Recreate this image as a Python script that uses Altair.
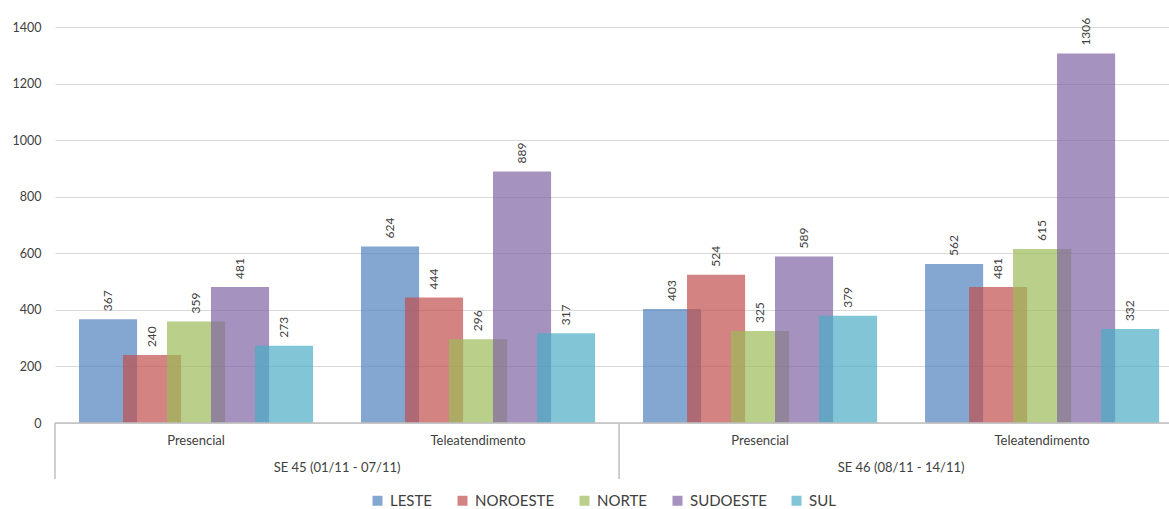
import altair as alt
import pandas as pd

# Categories
weeks = ["SE 45 (01/11 - 07/11)", "SE 46 (08/11 - 14/11)"]
modes = ["Presencial", "Teleatendimento"]
regions = ["LESTE", "NOROESTE", "NORTE", "SUDOESTE", "SUL"]
colors = ["#4F81BD", "#C0504D", "#9BBB59", "#8064A2", "#4BACC6"]

# Values per region: SE45 Presencial, SE45 Teleatendimento, SE46 Presencial, SE46 Teleatendimento
leste = [367, 624, 403, 562]
noroeste = [240, 444, 524, 481]
norte = [359, 296, 325, 615]
sudoeste = [481, 889, 589, 1306]
sul = [273, 317, 379, 332]

series = [leste, noroeste, norte, sudoeste, sul]

rows = []
for si, (reg, vals) in enumerate(zip(regions, series)):
    for gi, v in enumerate(vals):
        rows.append({"region": reg, "ser": si, "grp": gi,
                     "week": weeks[gi // 2], "mode": modes[gi % 2], "value": v})
bars_df = pd.DataFrame(rows)

mode_df = pd.DataFrame([{"label": modes[g % 2], "grp": g} for g in range(4)])
week_df = pd.DataFrame([{"label": w, "wk": i} for i, w in enumerate(weeks)])
sep_df = pd.DataFrame({"pos": [0, 2, 4]})

FONT = "Lato"
TXT = "#404040"
AXIS_GRAY = "#BFBFBF"

xscale = alt.Scale(domain=[0, 3.95], nice=False, zero=False)
yscale = alt.Scale(domain=[0, 1400], nice=False)

# Overlapping bars inside each category band
base = alt.Chart(bars_df).transform_calculate(
    x0="datum.grp + 0.085 + datum.ser * 0.156",
).transform_calculate(
    x1="datum.x0 + 0.206",
    xc="datum.x0 + 0.103",
)

bars = base.mark_bar(opacity=0.7).encode(
    x=alt.X("x0:Q", scale=xscale, axis=None),
    x2="x1:Q",
    y=alt.Y("value:Q", scale=yscale,
            axis=alt.Axis(values=list(range(0, 1401, 200)), title=None,
                          format="d", domain=False, ticks=False, labelPadding=14,
                          gridColor="#D9D9D9", gridWidth=1,
                          labelColor=TXT, labelFontSize=12.5, labelFont=FONT)),
    y2=alt.datum(0),
    color=alt.Color("region:N", scale=alt.Scale(domain=regions, range=colors),
                    legend=alt.Legend(orient="none", legendX=315, legendY=466,
                                      direction="horizontal", title=None,
                                      symbolType="square", symbolSize=100,
                                      symbolOpacity=0.7, symbolStrokeWidth=0,
                                      labelFontSize=15, labelFont=FONT,
                                      labelColor=TXT, columnPadding=22,
                                      labelOffset=5)),
    order=alt.Order("ser:Q"),
)

labels = base.mark_text(angle=270, align="left", baseline="middle", dx=8,
                        fontSize=12, font=FONT, color=TXT).encode(
    x=alt.X("xc:Q", scale=xscale, axis=None),
    y=alt.Y("value:Q", scale=yscale),
    text="value:Q",
)

zero_line = alt.Chart(pd.DataFrame({"v": [0]})).mark_rule(
    color=AXIS_GRAY, strokeWidth=1.5).encode(y=alt.Y("v:Q", scale=yscale))

separators = alt.Chart(sep_df).mark_rule(color=AXIS_GRAY, strokeWidth=1.5).encode(
    x=alt.X("pos:Q", scale=xscale, axis=None),
    y=alt.value(396), y2=alt.value(452),
)

mode_text = alt.Chart(mode_df).transform_calculate(c="datum.grp + 0.5").mark_text(
    fontSize=13, font=FONT, color=TXT, baseline="middle").encode(
    x=alt.X("c:Q", scale=xscale, axis=None),
    y=alt.value(414),
    text="label:N",
)

week_text = alt.Chart(week_df).transform_calculate(c="datum.wk * 2 + 1").mark_text(
    fontSize=13, font=FONT, color=TXT, baseline="middle").encode(
    x=alt.X("c:Q", scale=xscale, axis=None),
    y=alt.value(441),
    text="label:N",
)

chart = alt.layer(bars, zero_line, labels, separators, mode_text, week_text).properties(
    width=1114, height=396,
    autosize=alt.AutoSizeParams(type="none"),
    padding={"left": 55, "top": 27, "right": 0, "bottom": 86},
    background="white",
).configure_view(stroke=None)

chart.save("out.html", embed_options={"renderer": "svg", "actions": False})
